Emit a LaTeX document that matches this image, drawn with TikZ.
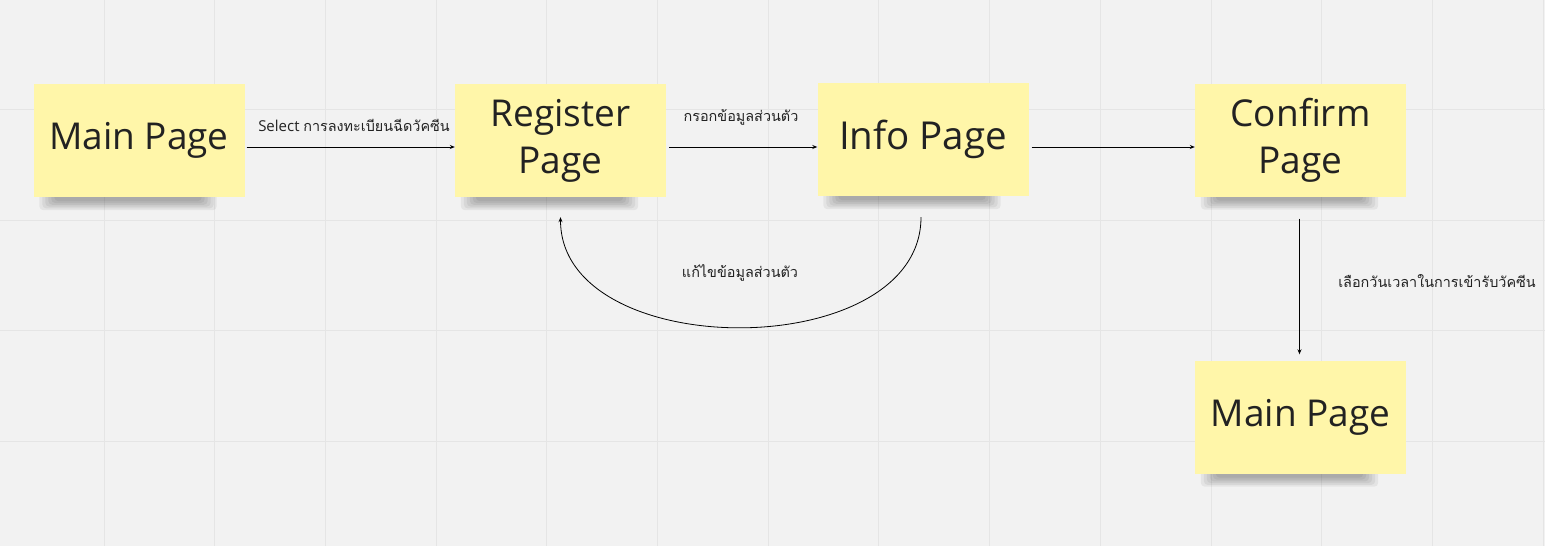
\documentclass[tikz,border=0pt]{standalone}
\usepackage{fontspec}
\setmainfont{Open Sans}
\newfontfamily\thaifont[Script=Thai]{Loma}
\usetikzlibrary{arrows.meta}
\definecolor{bg}{HTML}{F2F2F2}
\definecolor{gridc}{HTML}{E5E5E5}
\definecolor{sticky}{HTML}{FFF6A9}
\definecolor{ink}{HTML}{222222}
\pgfdeclarelayer{background}
\pgfsetlayers{background,main}
\begin{document}
\begin{tikzpicture}[x=1pt,y=-1pt,
  note/.style={fill=sticky, minimum width=211pt, minimum height=113pt, inner sep=0pt,
    text=ink, font=\fontsize{37}{47}\selectfont, align=center},
  arr/.style={-{Stealth[length=5pt,width=4pt]}, line width=0.8pt, black},
  lbl/.style={font=\fontsize{14.4}{16}\selectfont, text=ink, inner sep=0pt}]
\useasboundingbox (0,0) rectangle (1545,546);

\node[note] (main1) at (139,140.5) {Main Page};
\node[note] (reg)   at (560.5,140.5) {Register\\Page};
\node[note] (info)  at (923,139.5) {\fontsize{38.5}{47}\selectfont Info Page};
\node[note] (conf)  at (1300.5,140) {Confirm\\Page};
\node[note] (main2) at (1300.5,417) {Main Page};

\draw[arr] (main1.east |- 0,147) ++(2,0) -- (reg.west |- 0,147);
\draw[arr] (reg.east |- 0,147) ++(3,0) -- (info.west |- 0,147);
\draw[arr] (info.east |- 0,147) ++(3,0) -- (conf.west |- 0,147);
\draw[arr] ([shift={(-2,21)}]info.south) .. controls +(0,147) and +(0,147) .. ([shift={(0,20)}]reg.south);
\draw[arr] ([shift={(-1,22)}]conf.south) -- ([shift={(-1,-6)}]main2.north);

\node[lbl] (l1) at (354,125) {{\fontsize{15}{16}\selectfont Select} {\thaifont การลงทะเบียนฉีดวัคซีน}};
\node[lbl] (l2) at (741,117) {\thaifont กรอกข้อมูลส่วนตัว};
\node[lbl] (l3) at (740,273) {\thaifont แก้ไขข้อมูลส่วนตัว};
\node[lbl] (l4) at (1437,281) {\thaifont เลือกวันเวลาในการเข้ารับวัคซีน};

\begin{pgfonlayer}{background}
  \fill[bg] (0,0) rectangle (1545,546);
  \foreach \i in {1,...,14} \draw[gridc, line width=1pt] ({-6.7+110.7*\i},0) -- ({-6.7+110.7*\i},546);
  \foreach \j in {1,...,4} \draw[gridc, line width=1pt] (0,{-1.2+110.6*\j}) -- (1545,{-1.2+110.6*\j});
  \foreach \n in {main1,reg,info,conf,main2} {
    \foreach \k in {0,1,2,3,4,5} {
      \fill[black,opacity=0.055,rounded corners=4pt]
        ([shift={({6+3*\k},-4)}]\n.south west) rectangle ([shift={({-28-3*\k},{13-1.8*\k})}]\n.south east);
    }
  }
\end{pgfonlayer}
\end{tikzpicture}
\end{document}
